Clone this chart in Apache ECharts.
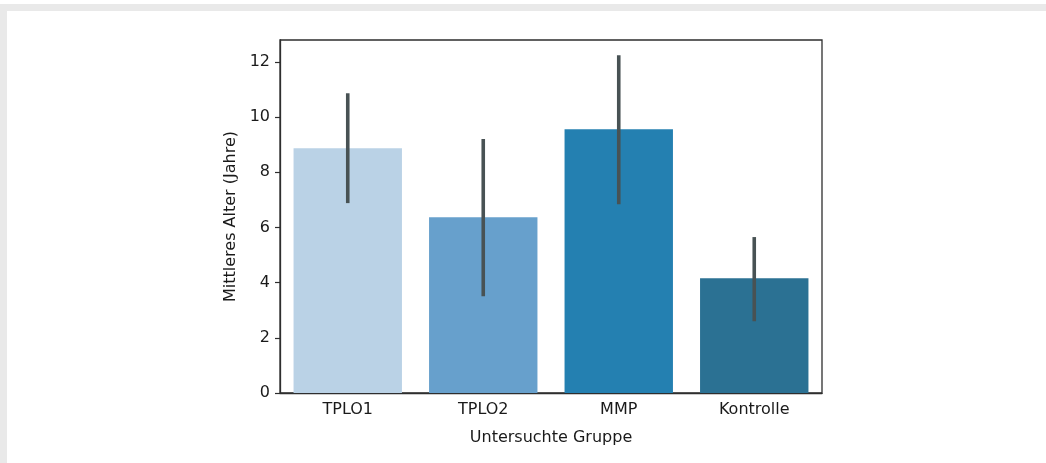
<!DOCTYPE html>
<html>
<head>
<meta charset="utf-8">
<script src="https://cdn.jsdelivr.net/npm/echarts@6/dist/echarts.min.js"></script>
<style>
html,body{margin:0;padding:0;background:#fff;}
#chart{width:1046px;height:463px;}
</style>
</head>
<body>
<div id="chart"></div>
<script>
const categories = ['TPLO1', 'TPLO2', 'MMP', 'Kontrolle'];
const meanAge = [8.87, 6.37, 9.56, 4.16];
const ciLow = [6.88, 3.51, 6.84, 2.60];
const ciHigh = [10.86, 9.20, 12.24, 5.65];
const yTicks = [0, 2, 4, 6, 8, 10, 12];
const barColors = ['#bad2e6', '#67a0cc', '#2480b1', '#2b7193'];

const chart = echarts.init(document.getElementById('chart'));
const font = 'DejaVu Sans';
chart.setOption({
  animation: false,
  backgroundColor: '#ffffff',
  graphic: [
    {type: 'rect', shape: {x: 0, y: 4, width: 1046, height: 7}, style: {fill: '#e9e9e9'}, silent: true},
    {type: 'rect', shape: {x: 0, y: 4, width: 7, height: 459}, style: {fill: '#e9e9e9'}, silent: true}
  ],
  grid: {left: 280, right: 224, top: 40, bottom: 70, show: true, borderColor: '#2e2e2e', borderWidth: 1.3, backgroundColor: 'transparent'},
  xAxis: {
    type: 'category',
    data: categories,
    name: 'Untersuchte Gruppe',
    nameLocation: 'middle',
    nameGap: 37,
    nameTextStyle: {fontFamily: font, fontSize: 16, color: '#1a1a1a'},
    axisLine: {lineStyle: {color: '#2e2e2e', width: 1.3}},
    axisTick: {alignWithLabel: true, length: 5, lineStyle: {color: '#2e2e2e', width: 1.2}},
    axisLabel: {fontFamily: font, fontSize: 16, color: '#1a1a1a', margin: 9}
  },
  yAxis: {
    type: 'value',
    min: 0,
    max: 12.79,
    interval: 2,
    name: 'Mittleres Alter (Jahre)',
    nameLocation: 'middle',
    nameGap: 39,
    nameTextStyle: {fontFamily: font, fontSize: 16, color: '#1a1a1a'},
    splitLine: {show: false},
    axisLine: {show: true, lineStyle: {color: '#2e2e2e', width: 1.3}},
    axisTick: {show: true, length: 5, customValues: yTicks, lineStyle: {color: '#2e2e2e', width: 1.2}},
    axisLabel: {fontFamily: font, fontSize: 16, color: '#1a1a1a', margin: 10, customValues: yTicks}
  },
  series: [
    {
      type: 'bar',
      barCategoryGap: '20%',
      data: meanAge.map((v, i) => ({value: v, itemStyle: {color: barColors[i]}})),
      z: 2
    },
    {
      type: 'custom',
      z: 5,
      data: categories.map((c, i) => [i, ciLow[i], ciHigh[i]]),
      renderItem: function (params, api) {
        const p1 = api.coord([api.value(0), api.value(1)]);
        const p2 = api.coord([api.value(0), api.value(2)]);
        return {
          type: 'line',
          shape: {x1: p1[0], y1: p1[1], x2: p2[0], y2: p2[1]},
          style: {stroke: '#485254', lineWidth: 3.6}
        };
      }
    }
  ]
});
</script>
</body>
</html>
